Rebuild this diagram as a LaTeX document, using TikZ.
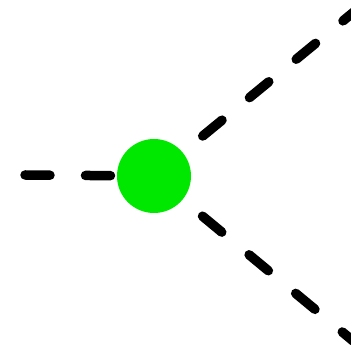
\documentclass[tikz,border=0pt]{standalone}
\begin{document}
\begin{tikzpicture}[x=1pt,y=1pt,
  dashline/.style={line width=9.5pt,line cap=round,dash pattern=on 25pt off 35.5pt},
  vertex/.style={circle,fill=vgreen,draw=none,minimum size=74pt,inner sep=0pt}]
\definecolor{vgreen}{RGB}{0,232,0}
\useasboundingbox (0,0) rectangle (351,345);
\clip (0,0) rectangle (351,345);
\coordinate (c) at (154,169);
\coordinate (l) at (25,170);
\coordinate (u) at (374,349.6);
\coordinate (d) at (372,-11.6);
\draw[dashline] (l) -- (c);
\draw[dashline,dash phase=58pt] (c) -- (u);
\draw[dashline,dash phase=58pt] (c) -- (d);
\node[vertex] (v) at (c) {};
\end{tikzpicture}
\end{document}
